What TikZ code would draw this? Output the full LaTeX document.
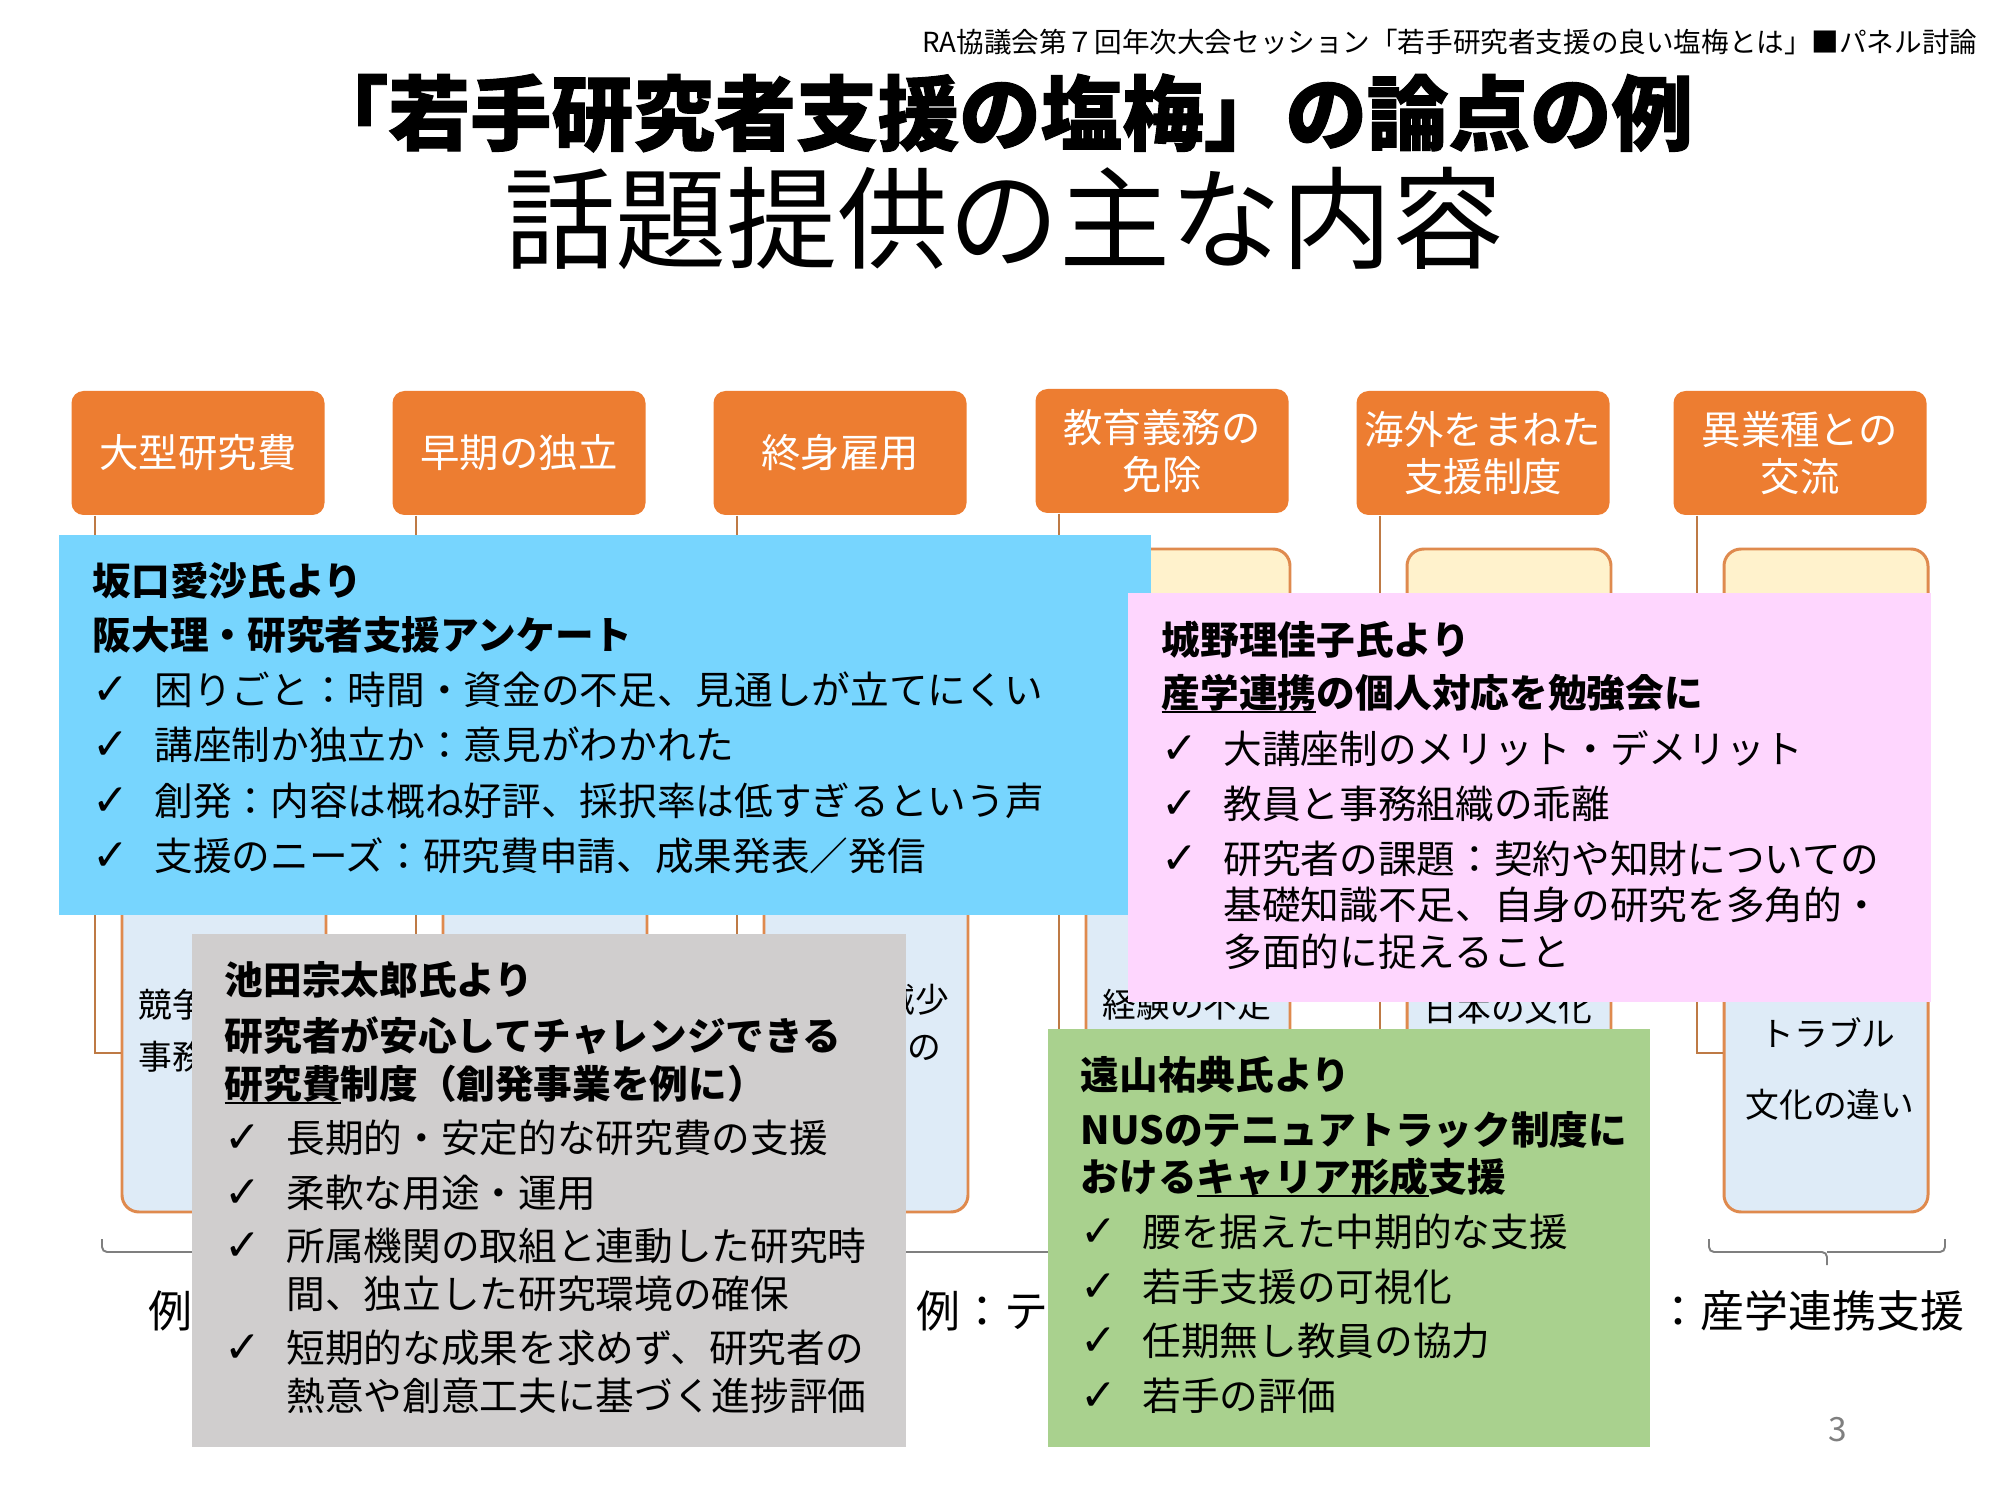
\documentclass[tikz,border=0pt]{standalone}
\usepackage{fontspec}
\setmainfont{Noto Sans CJK JP}
\newfontfamily\heavyfont{Noto Sans CJK JP}[BoldFeatures={FakeBold=1.2}]
\newfontfamily\symfont{DejaVu Sans}

\definecolor{topic}{HTML}{ED7D31}
\definecolor{linkcol}{HTML}{BE7A45}
\definecolor{edgecol}{HTML}{DF8A4E}
\definecolor{creamfill}{HTML}{FFF2CC}
\definecolor{listfill}{HTML}{DEEBF7}
\definecolor{bluenote}{HTML}{77D5FE}
\definecolor{pinknote}{HTML}{FED6FE}
\definecolor{greynote}{HTML}{D0CECE}
\definecolor{greennote}{HTML}{A9D18E}
\definecolor{bracecol}{HTML}{7F7F7F}

\newcommand{\chk}{\makebox[17.6pt][l]{\symfont\bfseries\fontsize{12.5}{13}\selectfont ✓}}
\newcommand{\ind}{\hspace*{17.6pt}}
\newcommand{\undl}[1]{\setbox0\hbox{#1}\rlap{\rule[-1.6pt]{\wd0}{0.7pt}}\box0}

\tikzset{
  topicbox/.style={fill=topic, rounded corners=1.2mm, minimum width=25.3mm, minimum height=12.4mm,
    inner sep=0pt, text=white, align=center, font=\fontsize{11.2}{13.3}\selectfont},
  subbox/.style={draw=edgecol, line width=0.85pt, rounded corners=1.7mm, minimum width=20.4mm,
    minimum height=31.8mm, inner sep=0pt},
  link/.style={draw=linkcol, line width=0.7pt},
  subtext/.style={font=\fontsize{9.6}{11}\selectfont, inner sep=0pt},
  panel/.style={anchor=north west, inner sep=0pt, outer sep=0pt},
  head/.style={font=\fontsize{11}{13}\selectfont\bfseries, anchor=west, inner sep=0pt,
    text height=9.6pt, text depth=1.4pt},
  itemline/.style={font=\fontsize{11}{13}\selectfont, anchor=west, inner sep=0pt,
    text height=9.6pt, text depth=1.4pt},
  tag/.style={font=\fontsize{12.5}{15}\selectfont, inner sep=0pt},
  grpbrace/.style={draw=bracecol, line width=0.55pt, rounded corners=0.5mm},
}

\begin{document}
\begin{tikzpicture}[x=0.1mm, y=-0.1mm]
  \useasboundingbox[fill=white] (0,0) rectangle (2000,1500);

  % titles
  \node[anchor=east, inner sep=0pt, font=\fontsize{7.85}{9}\selectfont] (session) at (1978,42)
    {RA協議会第７回年次大会セッション「若手研究者支援の良い塩梅とは」■パネル討論};
  \node[inner sep=0pt, font={\heavyfont\fontsize{23.2}{28}\selectfont\bfseries}] (title) at (1000,113)
    {「若手研究者支援の塩梅」の論点の例};
  \node[inner sep=0pt, font=\fontsize{31.6}{36}\selectfont] (subtitle) at (1004,218)
    {話題提供の主な内容};

  % topic boxes
  \node[topicbox] (p1) at (198,453) {大型研究費};
  \node[topicbox] (p2) at (519,453) {早期の独立};
  \node[topicbox] (p3) at (840,453) {終身雇用};
  \node[topicbox] (p4) at (1162,451) {教育義務の\\免除};
  \node[topicbox] (p5) at (1483,453) {海外をまねた\\支援制度};
  \node[topicbox] (p6) at (1800,453) {異業種との\\交流};

  % child boxes
  \node[subbox, fill=creamfill] (c1a) at (224,708) {};
  \node[subbox, fill=listfill]  (c1b) at (224,1053) {};
  \node[subbox, fill=creamfill] (c2a) at (545,708) {};
  \node[subbox, fill=listfill]  (c2b) at (545,1053) {};
  \node[subbox, fill=creamfill] (c3a) at (866,708) {};
  \node[subbox, fill=listfill]  (c3b) at (866,1053) {};
  \node[subbox, fill=creamfill] (c4a) at (1188,708) {};
  \node[subbox, fill=listfill]  (c4b) at (1188,1053) {};
  \node[subbox, fill=creamfill] (c5a) at (1509,708) {};
  \node[subbox, fill=listfill]  (c5b) at (1509,1053) {};
  \node[subbox, fill=creamfill] (c6a) at (1826,708) {};
  \node[subbox, fill=listfill]  (c6b) at (1826,1053) {};

  % connectors
  \draw[link] ([xshift=2.4mm]p1.south west) |- (c1a.west) ([xshift=2.4mm]p1.south west) |- (c1b.west);
  \draw[link] ([xshift=2.4mm]p2.south west) |- (c2a.west) ([xshift=2.4mm]p2.south west) |- (c2b.west);
  \draw[link] ([xshift=2.4mm]p3.south west) |- (c3a.west) ([xshift=2.4mm]p3.south west) |- (c3b.west);
  \draw[link] ([xshift=2.4mm]p4.south west) |- (c4a.west) ([xshift=2.4mm]p4.south west) |- (c4b.west);
  \draw[link] ([xshift=2.4mm]p5.south west) |- (c5a.west) ([xshift=2.4mm]p5.south west) |- (c5b.west);
  \draw[link] ([xshift=2.4mm]p6.south west) |- (c6a.west) ([xshift=2.4mm]p6.south west) |- (c6b.west);

  % child box texts
  \node[subtext, anchor=west] (t1a) at (138,1005) {競争};
  \node[subtext, anchor=west] (t1b) at (138,1057) {事務};
  \node[subtext, anchor=east] (t3a) at (950,1000) {減少};
  \node[subtext, anchor=east] (t3b) at (942,1048) {の};
  \node[subtext] (t4a) at (1187,1005) {経験の不足};
  \node[subtext] (t5a) at (1508,1009) {日本の文化};
  \node[subtext] (t6a) at (1828,1033) {トラブル};
  \node[subtext] (t6b) at (1830,1105) {文化の違い};

  % braces and examples
  \draw[grpbrace] (102,1239) |- (383,1252) -- (383,1265) (383,1252) -| (664,1239);
  \draw[grpbrace] (749,1239) |- (1188,1252) -- (1188,1265) (1188,1252) -| (1628,1239);
  \draw[grpbrace] (1709,1239) |- (1827,1252) -- (1827,1265) (1827,1252) -| (1945,1239);
  \node[tag, anchor=west] (ex1) at (148,1311) {例};
  \node[tag, anchor=west] (ex2) at (916,1311) {例：テ};
  \node[tag, anchor=east] (ex3) at (1965,1311) {：産学連携支援};

  % Sakaguchi
  \node[panel, fill=bluenote, minimum width=109.2mm, minimum height=38mm] (blue) at (59,535) {};
  \node[head] (b1) at (92,581) {坂口愛沙氏より};
  \node[head] (b2) at (92,635) {阪大理・研究者支援アンケート};
  \node[itemline] (b3) at (92,690) {\chk 困りごと：時間・資金の不足、見通しが立てにくい};
  \node[itemline] (b4) at (92,745) {\chk 講座制か独立か：意見がわかれた};
  \node[itemline] (b5) at (92,801) {\chk 創発：内容は概ね好評、採択率は低すぎるという声};
  \node[itemline] (b6) at (92,856) {\chk 支援のニーズ：研究費申請、成果発表／発信};

  % Shirono
  \node[panel, fill=pinknote, minimum width=80.3mm, minimum height=40.9mm] (pink) at (1128,593) {};
  \node[head] (k1) at (1161,640) {城野理佳子氏より};
  \node[head] (k2) at (1161,693) {\undl{産学連携}の個人対応を勉強会に};
  \node[itemline] (k3) at (1161,749) {\chk 大講座制のメリット・デメリット};
  \node[itemline] (k4) at (1161,804) {\chk 教員と事務組織の乖離};
  \node[itemline] (k5) at (1161,859) {\chk 研究者の課題：契約や知財についての};
  \node[itemline] (k6) at (1161,905) {\ind 基礎知識不足、自身の研究を多角的・};
  \node[itemline] (k7) at (1161,952) {\ind 多面的に捉えること};

  % Ikeda
  \node[panel, fill=greynote, minimum width=71.4mm, minimum height=51.3mm] (grey) at (192,934) {};
  \node[head] (g1) at (224,980) {池田宗太郎氏より};
  \node[head] (g2) at (224,1036) {研究者が安心してチャレンジできる};
  \node[head] (g3) at (224,1084) {\undl{研究費}制度（創発事業を例に）};
  \node[itemline] (g4) at (224,1138) {\chk 長期的・安定的な研究費の支援};
  \node[itemline] (g5) at (224,1193) {\chk 柔軟な用途・運用};
  \node[itemline] (g6) at (224,1246) {\chk 所属機関の取組と連動した研究時};
  \node[itemline] (g7) at (224,1294) {\ind 間、独立した研究環境の確保};
  \node[itemline] (g8) at (224,1348) {\chk 短期的な成果を求めず、研究者の};
  \node[itemline] (g9) at (224,1396) {\ind 熱意や創意工夫に基づく進捗評価};

  % Toyama
  \node[panel, fill=greennote, minimum width=60.2mm, minimum height=41.8mm] (green) at (1048,1029) {};
  \node[head] (n1) at (1080,1075) {遠山祐典氏より};
  \node[head] (n2) at (1080,1130) {NUSのテニュアトラック制度に};
  \node[head] (n3) at (1080,1177) {おける\undl{キャリア形成}支援};
  \node[itemline] (n4) at (1080,1232) {\chk 腰を据えた中期的な支援};
  \node[itemline] (n5) at (1080,1287) {\chk 若手支援の可視化};
  \node[itemline] (n6) at (1080,1341) {\chk 任期無し教員の協力};
  \node[itemline] (n7) at (1080,1396) {\chk 若手の評価};

  % page
  \node[inner sep=0pt, text=bracecol, font=\fontsize{9.5}{11}\selectfont] (page) at (1838,1430) {3};
\end{tikzpicture}
\end{document}
